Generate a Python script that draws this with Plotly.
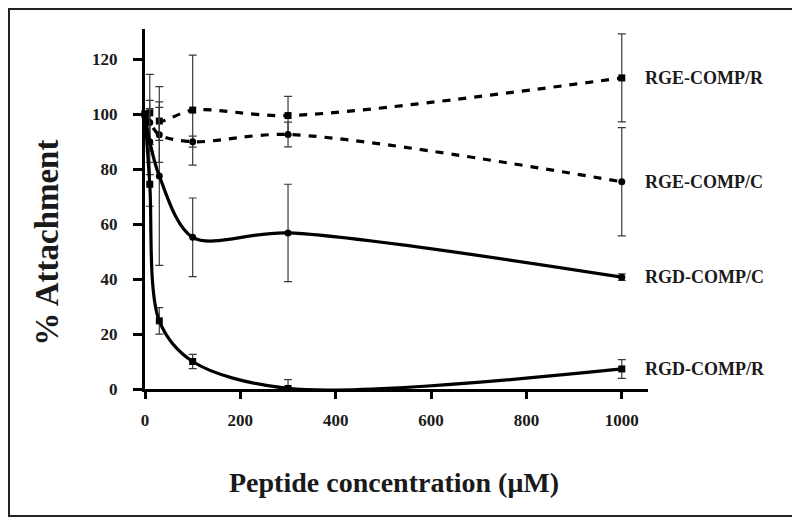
import plotly.graph_objects as go

# ---- data ----
conc = [0, 10, 30, 100, 300, 1000]  # Peptide concentration (uM)

rge_r = [100, 100.5, 97.5, 101.5, 99.5, 113.2]
rge_r_err = [0, 14, 7, 20, 7, 16]

rge_c = [100, 97, 92.5, 90, 92.6, 75.4]
rge_c_err = [0, 8, 10, 2, 4.5, 19.7]

rgd_c = [100, 90, 77.5, 55.2, 56.8, 40.7]
rgd_c_err = [0, 12, 32.5, 14.3, 17.7, 1.2]

rgd_r = [100, 74.5, 24.8, 10, 0.2, 7.3]
rgd_r_err = [0, 8, 4.8, 2.6, 3.2, 3.4]

series_names = ["RGE-COMP/R", "RGE-COMP/C", "RGD-COMP/C", "RGD-COMP/R"]
x_ticks = [0, 200, 400, 600, 800, 1000]
y_ticks = [0, 20, 40, 60, 80, 100, 120]

FONT = "Liberation Serif"

series = [
    (rge_r, rge_r_err, "square", "8px,8px"),
    (rge_c, rge_c_err, "circle", "8px,8px"),
    (rgd_c, rgd_c_err, "circle", "solid"),
    (rgd_r, rgd_r_err, "square", "solid"),
]

fig = go.Figure()
for (vals, errs, sym, dash), name in zip(series, series_names):
    fig.add_trace(go.Scatter(
        x=conc, y=vals, name=name, mode="lines+markers",
        line=dict(color="black", width=3.2, dash=dash, shape="spline", smoothing=0.9),
        marker=dict(symbol=sym, size=7, color="black"),
        error_y=dict(type="data", array=errs, visible=True, color="#3a3a3a",
                     thickness=1.2, width=4),
        cliponaxis=False,
        showlegend=False,
    ))

# series labels at the right end of each curve
for vals, name in zip([rge_r, rge_c, rgd_c, rgd_r], series_names):
    fig.add_annotation(
        x=0.99, xref="paper", y=vals[-1], yref="y",
        text=f"<b>{name}</b>", showarrow=False, xanchor="left", yanchor="middle",
        font=dict(family=FONT, size=18, color="#1a1a1a"),
    )

# axis titles
fig.add_annotation(
    x=0.496, y=-0.261, xref="paper", yref="paper",
    text="<b>Peptide concentration (\u03bcM)</b>", showarrow=False,
    xanchor="center", yanchor="middle",
    font=dict(family=FONT, size=28, color="#1a1a1a"),
)
fig.add_annotation(
    x=-0.195, y=0.406, xref="paper", yref="paper",
    text="<b>% Attachment</b>", showarrow=False, textangle=-90,
    xanchor="center", yanchor="middle",
    font=dict(family=FONT, size=33, color="#1a1a1a"),
)

# outer frame
fig.add_shape(type="rect", xref="paper", yref="paper",
              x0=-0.2704, x1=1.2903, y0=-0.3528, y1=1.0556,
              line=dict(color="#222", width=2), fillcolor="rgba(0,0,0,0)")

fig.update_layout(
    width=792, height=515,
    margin=dict(l=137, r=152, t=21, b=134),
    paper_bgcolor="white", plot_bgcolor="white",
    font=dict(family=FONT, color="#1a1a1a"),
)
fig.update_xaxes(
    range=[0, 1055], tickvals=x_ticks, ticktext=[f"<b>{t}</b>" for t in x_ticks],
    showgrid=False, zeroline=False, showline=True, linecolor="black", linewidth=3,
    ticks="outside", ticklen=7, tickwidth=3, tickcolor="black",
    tickfont=dict(family=FONT, size=17, color="#1a1a1a"), ticklabelstandoff=7,
)
fig.update_yaxes(
    range=[0, 131], tickvals=y_ticks, ticktext=[f"<b>{t}</b>" for t in y_ticks],
    showgrid=False, zeroline=False, showline=True, linecolor="black", linewidth=3,
    ticks="outside", ticklen=9, tickwidth=3, tickcolor="black",
    tickfont=dict(family=FONT, size=17, color="#1a1a1a"), ticklabelstandoff=12,
)

fig.write_html("out.html")
